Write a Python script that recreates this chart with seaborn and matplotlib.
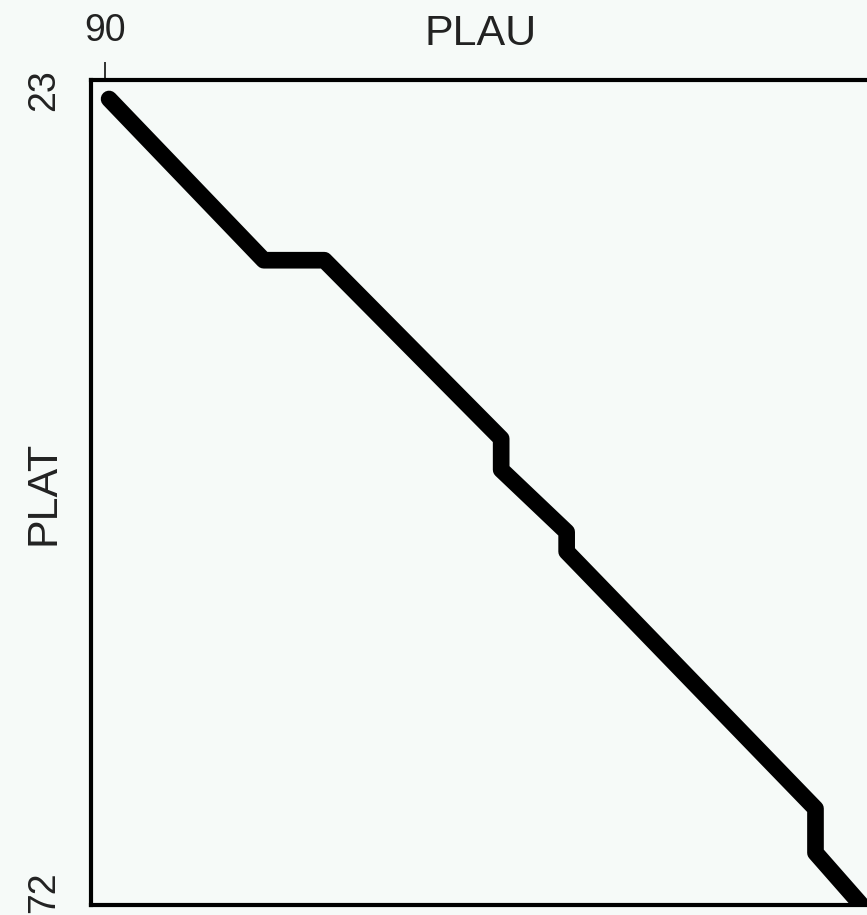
import matplotlib
matplotlib.use("Agg")
import matplotlib.pyplot as plt
import seaborn as sns
import pandas as pd

# alignment path, PLAU residue (x) against PLAT residue (y)
plau_pos = [90.25, 99.7, 103.4, 114.2, 114.2, 118.2, 118.2, 133.4, 133.4, 136.3]
plat_pos = [23.55, 33.4, 33.4, 44.3, 46.2, 50.0, 51.2, 66.9, 69.6, 72.9]
x_ticks = [90]
y_ticks = [23, 72]

bg = '#f6faf8'

path = pd.DataFrame({'PLAU': plau_pos, 'PLAT': plat_pos})

sns.set_style("white", {'axes.facecolor': bg, 'figure.facecolor': bg})
plt.rcParams['font.family'] = ['Liberation Sans', 'DejaVu Sans']

fig = plt.figure(figsize=(8.67, 9.15), dpi=100, facecolor=bg)
# axes runs off the right edge of the picture, like the cropped original
ax = fig.add_axes([91 / 867, 10 / 915, 779 / 867, 825 / 915])
ax.set_facecolor(bg)

sns.lineplot(data=path, x='PLAU', y='PLAT', sort=False, estimator=None,
             color='black', linewidth=12, ax=ax,
             solid_capstyle='round', solid_joinstyle='round')

ax.set_xlim(89.145, 136.73)
ax.set_ylim(72.79, 22.39)

ax.xaxis.tick_top()
ax.xaxis.set_label_position('top')
ax.set_xticks(x_ticks)
ax.set_yticks(y_ticks)
ax.set_xticklabels([str(v) for v in x_ticks], fontsize=27)
ax.set_yticklabels([str(v) for v in y_ticks], fontsize=27, rotation=90, va='center')
ax.tick_params(axis='both', length=13, width=1.3, color='#222222', labelcolor='#222222')
ax.tick_params(axis='x', pad=9)
ax.tick_params(axis='y', pad=8)

ax.set_xlabel('PLAU', fontsize=31, color='#222222', va='center')
ax.set_ylabel('PLAT', fontsize=31, color='#222222', va='center')
ax.xaxis.set_label_coords(0.5, 1.0558)
ax.yaxis.set_label_coords(-0.0616, 0.5)

for s in ax.spines.values():
    s.set_linewidth(3)
    s.set_color('black')

fig.savefig('out.png', dpi=100, facecolor=bg)
